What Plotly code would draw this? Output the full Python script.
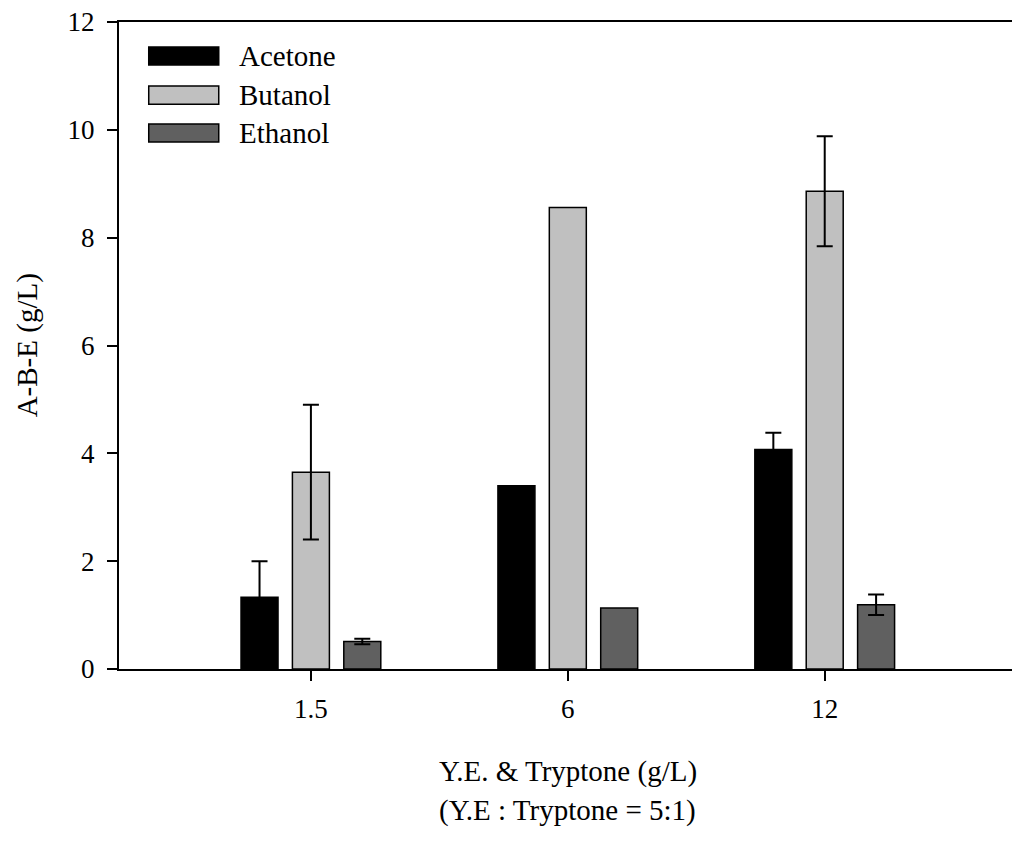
import plotly.graph_objects as go

# Nutrient concentration groups (yeast extract + tryptone, g/L)
categories = ["1.5", "6", "12"]

# Solvent titres (g/L) and standard deviations (None = no replicate spread shown)
acetone = [1.33, 3.40, 4.07]
acetone_err = [0.67, None, 0.31]
butanol = [3.65, 8.56, 8.86]
butanol_err = [1.25, None, 1.02]
ethanol = [0.51, 1.13, 1.19]
ethanol_err = [0.05, None, 0.19]

series = [
    ("Acetone", acetone, acetone_err, "#000000"),
    ("Butanol", butanol, butanol_err, "#c0c0c0"),
    ("Ethanol", ethanol, ethanol_err, "#606060"),
]

FONT = "Liberation Serif"

fig = go.Figure()
for name, vals, errs, color in series:
    # filled bars
    fig.add_trace(go.Bar(
        x=categories, y=vals, name=name, offsetgroup=name,
        marker=dict(color=color, line=dict(color="black", width=1.5)),
        showlegend=False,
    ))
    # transparent overlay carrying the error bars, only where a spread exists
    ex = [c for c, e in zip(categories, errs) if e is not None]
    ey = [v for v, e in zip(vals, errs) if e is not None]
    ee = [e for e in errs if e is not None]
    fig.add_trace(go.Bar(
        x=ex, y=ey, offsetgroup=name,
        marker=dict(color="rgba(0,0,0,0)", line=dict(width=0)),
        error_y=dict(type="data", array=ee, visible=True,
                     color="black", thickness=2, width=8),
        showlegend=False, hoverinfo="skip",
    ))

fig.update_layout(
    width=1012, height=841,
    margin=dict(l=119, r=0, t=22, b=172),
    paper_bgcolor="white", plot_bgcolor="white",
    barmode="group", bargap=0.4, bargroupgap=0.28,
    font=dict(family=FONT, size=27, color="black"),
)

fig.update_xaxes(
    type="category", range=[-0.747, 2.729],
    showline=True, linecolor="black", linewidth=2, mirror=True,
    ticks="outside", ticklen=10, tickwidth=2, tickcolor="black",
    ticklabelstandoff=5, showgrid=False, zeroline=False,
    tickfont=dict(family=FONT, size=27, color="black"),
)
fig.update_yaxes(
    range=[0, 12], dtick=2, tick0=0,
    showline=True, linecolor="black", linewidth=2,
    ticks="outside", ticklen=10, tickwidth=2, tickcolor="black",
    ticklabelstandoff=7, showgrid=False, zeroline=False,
    tickfont=dict(family=FONT, size=27, color="black"),
)

# Legend: wide swatches with labels, placed inside the upper-left corner
legend_rows = [0.9475, 0.887, 0.8285]
sw_h = 0.014
for (name, _, _, color), yc in zip(series, legend_rows):
    fig.add_shape(type="rect", xref="paper", yref="paper",
                  x0=0.0333, x1=0.1117, y0=yc - sw_h, y1=yc + sw_h,
                  fillcolor=color, line=dict(color="black", width=1.5))
    fig.add_annotation(xref="paper", yref="paper", x=0.1321, y=yc,
                       xanchor="left", yanchor="middle", showarrow=False,
                       text=name, font=dict(family=FONT, size=29, color="black"))

# Axis titles
fig.add_annotation(xref="paper", yref="paper", x=0.5026, y=-0.1587,
                   xanchor="center", yanchor="middle", showarrow=False,
                   text="Y.E. &amp; Tryptone (g/L)",
                   font=dict(family=FONT, size=29, color="black"))
fig.add_annotation(xref="paper", yref="paper", x=0.5026, y=-0.2193,
                   xanchor="center", yanchor="middle", showarrow=False,
                   text="(Y.E : Tryptone = 5:1)",
                   font=dict(family=FONT, size=29, color="black"))
fig.add_annotation(xref="paper", yref="paper", x=-0.1021, y=0.5,
                   xanchor="center", yanchor="middle", showarrow=False,
                   textangle=-90, text="A-B-E (g/L)",
                   font=dict(family=FONT, size=29, color="black"))

fig.write_html("out.html")
